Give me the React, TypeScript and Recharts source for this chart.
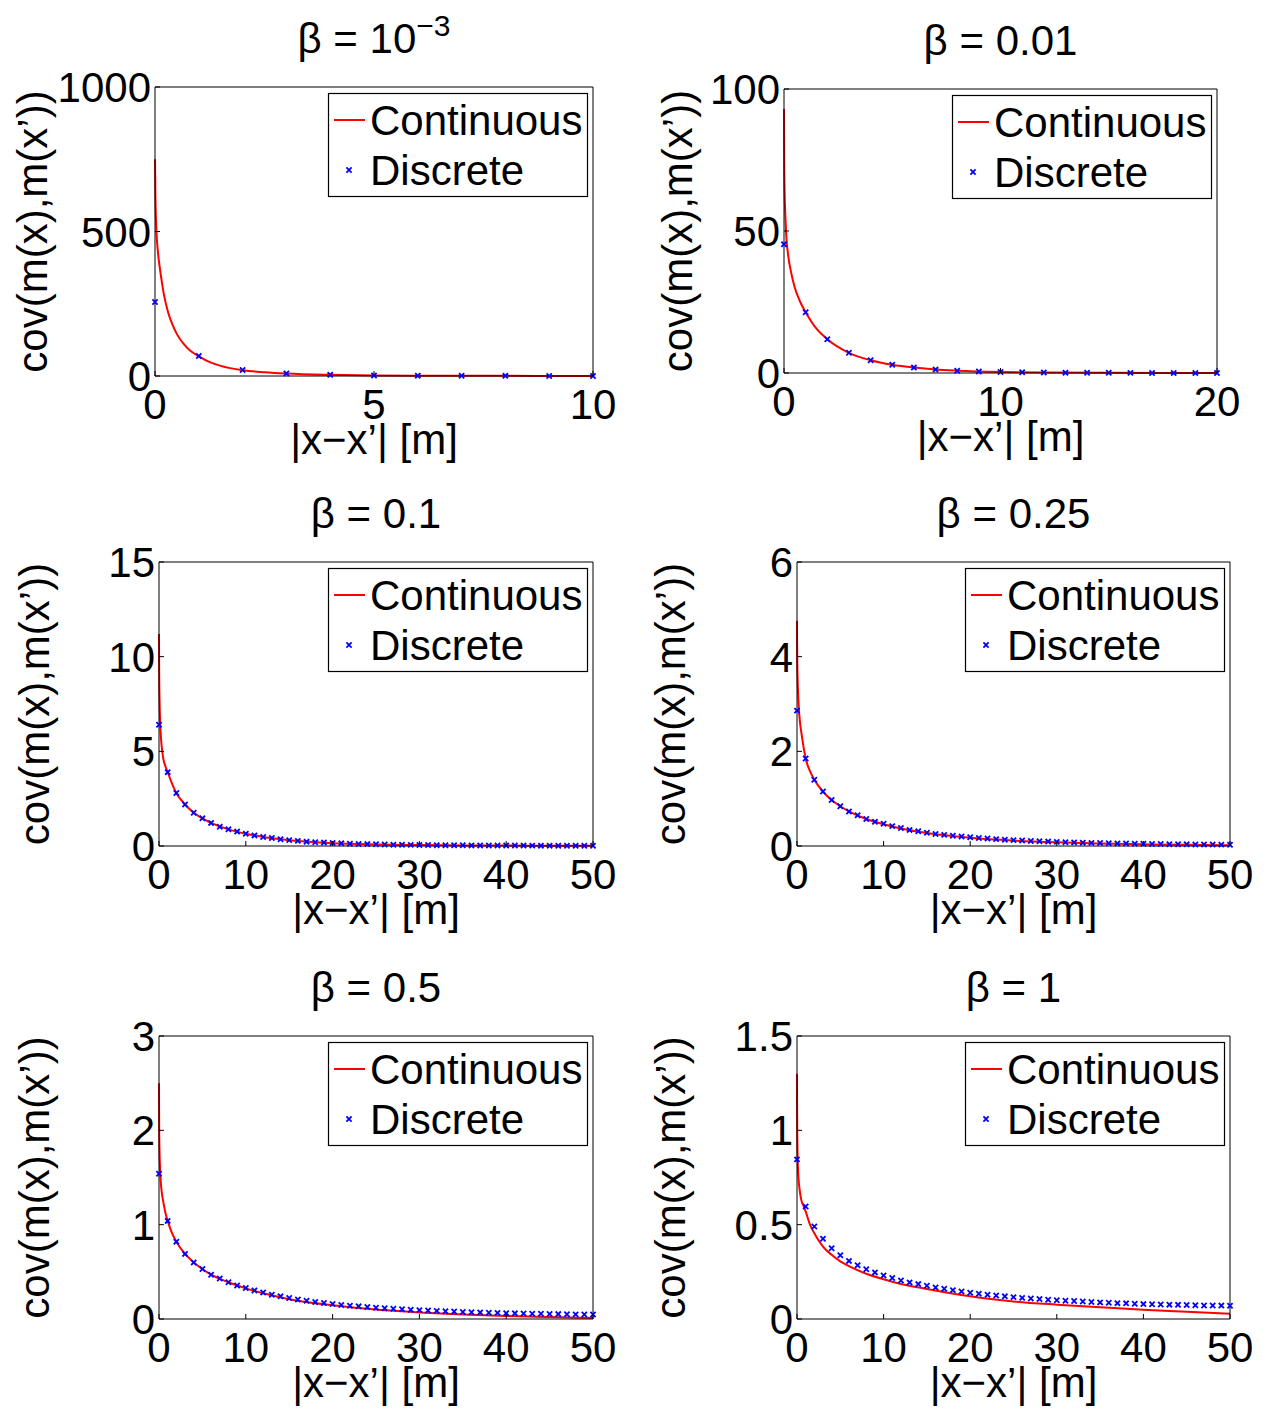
import React from 'react';
import { ComposedChart, Line, Scatter, XAxis, YAxis, Legend } from 'recharts';

const FONT = '"Liberation Sans", Arial, Helvetica, sans-serif';

// ---------- Panel 1: beta = 10^-3 ----------
const p1ContX = [0, 0.01, 0.03, 0.06, 0.1, 0.15, 0.2, 0.3, 0.4, 0.5, 0.65, 0.8, 1, 1.25, 1.5, 2, 2.5, 3, 4, 5, 6, 7, 8, 10];
const p1ContY = [750, 620, 510, 440, 385, 332, 285, 220, 178, 145, 112, 88, 68, 48, 35, 20, 13, 8.5, 4, 2, 1.2, 0.8, 0.5, 0.2];
const p1DiscX = [0, 1, 2, 3, 4, 5, 6, 7, 8, 9, 10];
const p1DiscY = [256, 69, 21, 9, 4, 2, 1.2, 0.8, 0.5, 0.3, 0.2];
const p1XTicks = [0, 5, 10];
const p1YTicks = [0, 500, 1000];

// ---------- Panel 2: beta = 0.01 ----------
const p2ContX = [0, 0.01, 0.03, 0.06, 0.1, 0.2, 0.3, 0.5, 0.75, 1, 1.5, 2, 3, 4, 5, 6, 7, 8, 10, 12, 15, 20];
const p2ContY = [93, 75, 63, 56, 49, 41, 36.5, 30, 25, 21.4, 15.6, 11.9, 7.1, 4.5, 2.9, 1.9, 1.2, 0.8, 0.35, 0.17, 0.06, 0.01];
const p2DiscX = [0, 1, 2, 3, 4, 5, 6, 7, 8, 9, 10, 11, 12, 13, 14, 15, 16, 17, 18, 19, 20];
const p2DiscY = [45.3, 21.4, 11.9, 7.1, 4.5, 2.9, 1.9, 1.2, 0.8, 0.5, 0.35, 0.25, 0.17, 0.12, 0.08, 0.06, 0.04, 0.03, 0.02, 0.015, 0.01];
const p2XTicks = [0, 10, 20];
const p2YTicks = [0, 50, 100];

// shared discrete distances for panels 3-6
const discX50 = [0, 1, 2, 3, 4, 5, 6, 7, 8, 9, 10, 11, 12, 13, 14, 15, 16, 17, 18, 19, 20, 21, 22, 23, 24, 25, 26, 27, 28, 29, 30, 31, 32, 33, 34, 35, 36, 37, 38, 39, 40, 41, 42, 43, 44, 45, 46, 47, 48, 49, 50];
const xTicks50 = [0, 10, 20, 30, 40, 50];
const contX50 = [0, 0.01, 0.03, 0.06, 0.1, 0.2, 0.35, 0.5, 0.75, 1, 1.5, 2, 3, 4, 5, 6, 8, 10, 12, 15, 20, 25, 30, 35, 40, 45, 50];

// ---------- Panel 3: beta = 0.1 ----------
const p3ContY = [11.2, 10.0, 8.7, 7.8, 7.0, 5.9, 5.1, 4.6, 4.2, 3.9, 3.3, 2.8, 2.19, 1.76, 1.46, 1.22, 0.88, 0.65, 0.48, 0.31, 0.15, 0.085, 0.05, 0.032, 0.022, 0.015, 0.01];
const p3DiscY = [6.4, 3.9, 2.8, 2.19, 1.76, 1.46, 1.22, 1.02, 0.88, 0.76, 0.65, 0.56, 0.48, 0.42, 0.36, 0.31, 0.27, 0.23, 0.2, 0.18, 0.16, 0.14, 0.12, 0.11, 0.1, 0.09, 0.08, 0.07, 0.065, 0.06, 0.055, 0.05, 0.045, 0.04, 0.038, 0.035, 0.032, 0.03, 0.028, 0.026, 0.024, 0.022, 0.021, 0.02, 0.019, 0.018, 0.017, 0.016, 0.015, 0.014, 0.013];
const p3YTicks = [0, 5, 10, 15];

// ---------- Panel 4: beta = 0.25 ----------
const p4ContY = [4.76, 4.3, 3.9, 3.6, 3.35, 2.95, 2.6, 2.4, 2.1, 1.85, 1.58, 1.4, 1.15, 0.97, 0.84, 0.73, 0.57, 0.46, 0.37, 0.275, 0.175, 0.115, 0.078, 0.054, 0.037, 0.025, 0.017];
const p4DiscY = [2.86, 1.85, 1.4, 1.15, 0.97, 0.84, 0.73, 0.65, 0.57, 0.51, 0.47, 0.42, 0.38, 0.34, 0.31, 0.28, 0.255, 0.235, 0.215, 0.2, 0.185, 0.17, 0.157, 0.145, 0.134, 0.124, 0.115, 0.107, 0.1, 0.093, 0.087, 0.081, 0.076, 0.071, 0.066, 0.062, 0.058, 0.055, 0.052, 0.049, 0.046, 0.043, 0.041, 0.039, 0.037, 0.035, 0.033, 0.032, 0.03, 0.029, 0.028];
const p4YTicks = [0, 2, 4, 6];

// ---------- Panel 5: beta = 0.5 ----------
const p5ContY = [2.5, 2.2, 1.95, 1.78, 1.65, 1.46, 1.32, 1.24, 1.12, 1.04, 0.91, 0.82, 0.69, 0.6, 0.53, 0.47, 0.39, 0.325, 0.272, 0.21, 0.145, 0.1, 0.07, 0.048, 0.032, 0.02, 0.011];
const p5DiscY = [1.54, 1.04, 0.82, 0.69, 0.6, 0.53, 0.47, 0.43, 0.39, 0.356, 0.328, 0.303, 0.28, 0.258, 0.24, 0.222, 0.207, 0.194, 0.181, 0.17, 0.159, 0.149, 0.141, 0.134, 0.127, 0.12, 0.114, 0.108, 0.103, 0.098, 0.094, 0.09, 0.086, 0.082, 0.079, 0.075, 0.072, 0.07, 0.067, 0.065, 0.062, 0.06, 0.058, 0.056, 0.055, 0.053, 0.052, 0.05, 0.049, 0.048, 0.047];
const p5YTicks = [0, 1, 2, 3];

// ---------- Panel 6: beta = 1 ----------
const p6ContY = [1.3, 1.12, 0.98, 0.88, 0.81, 0.73, 0.67, 0.63, 0.6, 0.57, 0.5, 0.455, 0.384, 0.34, 0.305, 0.28, 0.24, 0.211, 0.186, 0.159, 0.12, 0.093, 0.076, 0.062, 0.049, 0.039, 0.028];
const p6DiscY = [0.846, 0.596, 0.49, 0.425, 0.375, 0.338, 0.308, 0.285, 0.264, 0.247, 0.231, 0.217, 0.204, 0.194, 0.185, 0.176, 0.167, 0.16, 0.153, 0.146, 0.139, 0.134, 0.129, 0.125, 0.12, 0.116, 0.112, 0.109, 0.106, 0.102, 0.099, 0.097, 0.095, 0.093, 0.09, 0.088, 0.086, 0.084, 0.083, 0.081, 0.079, 0.078, 0.077, 0.076, 0.075, 0.074, 0.073, 0.072, 0.072, 0.071, 0.0705];
const p6YTicks = [0, 0.5, 1, 1.5];

const seriesNames = ['Continuous', 'Discrete'];
const yLabelText = 'cov(m(x),m(x\u2019))';
const xLabelText = '|x\u2212x\u2019| [m]';

const zip = (xs: number[], ys: number[]) => xs.map((x, i) => ({ x, y: ys[i] }));

type Box = { l: number; t: number; r: number; b: number };
type Panel = {
  title: string;
  sup?: string;
  cont: { x: number; y: number }[];
  disc: { x: number; y: number }[];
  xTicks: number[];
  yTicks: number[];
  box: Box;
  cell: { l: number; t: number; w: number; h: number };
  yLabelX: number;
};

const panels: Panel[] = [
  { title: '\u03b2 = 10', sup: '\u22123', cont: zip(p1ContX, p1ContY), disc: zip(p1DiscX, p1DiscY), xTicks: p1XTicks, yTicks: p1YTicks,
    box: { l: 155, t: 87, r: 593, b: 376 }, cell: { l: 0, t: 0, w: 636, h: 472 }, yLabelX: 47 },
  { title: '\u03b2 = 0.01', cont: zip(p2ContX, p2ContY), disc: zip(p2DiscX, p2DiscY), xTicks: p2XTicks, yTicks: p2YTicks,
    box: { l: 784, t: 89, r: 1217, b: 373 }, cell: { l: 636, t: 0, w: 636, h: 472 }, yLabelX: 692 },
  { title: '\u03b2 = 0.1', cont: zip(contX50, p3ContY), disc: zip(discX50, p3DiscY), xTicks: xTicks50, yTicks: p3YTicks,
    box: { l: 159, t: 562, r: 593, b: 846 }, cell: { l: 0, t: 472, w: 636, h: 474 }, yLabelX: 49 },
  { title: '\u03b2 = 0.25', cont: zip(contX50, p4ContY), disc: zip(discX50, p4DiscY), xTicks: xTicks50, yTicks: p4YTicks,
    box: { l: 797, t: 562, r: 1230, b: 846 }, cell: { l: 636, t: 472, w: 636, h: 474 }, yLabelX: 685 },
  { title: '\u03b2 = 0.5', cont: zip(contX50, p5ContY), disc: zip(discX50, p5DiscY), xTicks: xTicks50, yTicks: p5YTicks,
    box: { l: 159, t: 1036, r: 593, b: 1319 }, cell: { l: 0, t: 946, w: 636, h: 466 }, yLabelX: 49 },
  { title: '\u03b2 = 1', cont: zip(contX50, p6ContY), disc: zip(discX50, p6DiscY), xTicks: xTicks50, yTicks: p6YTicks,
    box: { l: 797, t: 1036, r: 1230, b: 1319 }, cell: { l: 636, t: 946, w: 636, h: 466 }, yLabelX: 685 },
];

const FS = 42;

const BottomTick = (props: any) => {
  const { x, y, payload } = props;
  return (
    <g>
      <line x1={x} y1={y} x2={x} y2={y - 5} stroke="#000" strokeWidth={1} />
      <text x={x} y={y + 43} textAnchor="middle" fontSize={FS} fontFamily={FONT} fill="#000">{String(payload.value)}</text>
    </g>
  );
};
const TopTick = (props: any) => {
  const { x, y } = props;
  return <line x1={x} y1={y} x2={x} y2={y + 5} stroke="#000" strokeWidth={1} />;
};
const LeftTick = (props: any) => {
  const { x, y, payload } = props;
  return (
    <g>
      <line x1={x} y1={y} x2={x + 5} y2={y} stroke="#000" strokeWidth={1} />
      <text x={x - 4} y={y + 15} textAnchor="end" fontSize={FS} fontFamily={FONT} fill="#000">{String(payload.value)}</text>
    </g>
  );
};
const RightTick = (props: any) => {
  const { x, y } = props;
  return <line x1={x} y1={y} x2={x - 5} y2={y} stroke="#000" strokeWidth={1} />;
};

const CrossShape = (props: any) => {
  const { cx, cy } = props;
  if (cx == null || cy == null) return null;
  const s = 2.6;
  return (
    <path d={`M${cx - s},${cy - s}L${cx + s},${cy + s}M${cx - s},${cy + s}L${cx + s},${cy - s}`} stroke="#0000ff" strokeWidth={1.8} fill="none" />
  );
};

const LegendBox = (props: any) => {
  const payload = props.payload || [];
  return (
    <svg width={260} height={104} style={{ display: 'block', overflow: 'visible' }}>
      <rect x={0.5} y={0.5} width={259} height={103} fill="#fff" stroke="#000" strokeWidth={1.2} />
      {payload.map((entry: any, i: number) => {
        const cy = 27 + i * 50;
        const isLine = entry.type === 'line';
        return (
          <g key={i}>
            {isLine ? (
              <line x1={6} y1={cy} x2={37} y2={cy} stroke="#ff0000" strokeWidth={2} />
            ) : (
              <CrossShape cx={21} cy={cy} />
            )}
            <text x={42} y={cy + 15} fontSize={FS} fontFamily={FONT} fill="#000">{entry.value}</text>
          </g>
        );
      })}
    </svg>
  );
};

const AX = 1; // thickness reserved for each axis band

const PanelChart = ({ p }: { p: Panel }) => {
  const { box, cell } = p;
  const margin = {
    left: box.l - cell.l - AX,
    top: box.t - cell.t - AX,
    right: cell.l + cell.w - box.r - AX,
    bottom: cell.t + cell.h - box.b - AX,
  };
  const xMax = p.xTicks[p.xTicks.length - 1];
  const yMax = p.yTicks[p.yTicks.length - 1];
  return (
    <div style={{ position: 'absolute', left: cell.l, top: cell.t, width: cell.w, height: cell.h }}>
      <ComposedChart width={cell.w} height={cell.h} margin={margin} style={{ overflow: 'visible' }}>
        <XAxis xAxisId="b" type="number" dataKey="x" domain={[0, xMax]} ticks={p.xTicks} interval={0} height={AX}
          tickSize={0} tickMargin={0} tickLine={false} tick={BottomTick} axisLine={{ stroke: '#000', strokeWidth: 1 }} />
        <XAxis xAxisId="t" orientation="top" type="number" dataKey="x" domain={[0, xMax]} ticks={p.xTicks} interval={0} height={AX}
          tickSize={0} tickMargin={0} tickLine={false} tick={TopTick} axisLine={{ stroke: '#000', strokeWidth: 1 }} />
        <YAxis yAxisId="l" type="number" dataKey="y" domain={[0, yMax]} ticks={p.yTicks} interval={0} width={AX}
          tickSize={0} tickMargin={0} tickLine={false} tick={LeftTick} axisLine={{ stroke: '#000', strokeWidth: 1 }} />
        <YAxis yAxisId="r" orientation="right" type="number" dataKey="y" domain={[0, yMax]} ticks={p.yTicks} interval={0} width={AX}
          tickSize={0} tickMargin={0} tickLine={false} tick={RightTick} axisLine={{ stroke: '#000', strokeWidth: 1 }} />
        <Line xAxisId="b" yAxisId="l" data={p.cont} dataKey="y" name={seriesNames[0]} type="monotone" stroke="#ff0000"
          strokeWidth={2} dot={false} activeDot={false} legendType="line" isAnimationActive={false} />
        <Scatter xAxisId="b" yAxisId="l" data={p.disc} dataKey="y" name={seriesNames[1]} fill="#0000ff" shape={CrossShape}
          legendType="cross" isAnimationActive={false} />
        <Legend layout="vertical" align="center" verticalAlign="middle" width={260} height={104}
          wrapperStyle={{ left: box.r - cell.l - 5 - 260, top: box.t - cell.t + 6 }} content={LegendBox} />
      </ComposedChart>
    </div>
  );
};

export default function App() {
  return (
    <div style={{ position: 'absolute', left: 0, top: 0, width: 1272, height: 1412, background: '#fff', fontFamily: FONT }}>
      {panels.map((p, i) => (
        <PanelChart key={i} p={p} />
      ))}
      <svg width={1272} height={1412} style={{ position: 'absolute', left: 0, top: 0, pointerEvents: 'none' }}>
        {panels.map((p, i) => {
          const cx = (p.box.l + p.box.r) / 2;
          const cy = (p.box.t + p.box.b) / 2;
          return (
            <g key={i} fontFamily={FONT} fill="#000">
              <text x={cx} y={p.box.t - 34} textAnchor="middle" fontSize={FS}>
                {p.title}
                {p.sup ? <tspan fontSize={30} dy={-17}>{p.sup}</tspan> : null}
              </text>
              <text x={cx} y={p.box.b + 78} textAnchor="middle" fontSize={FS}>{xLabelText}</text>
              <text transform={`translate(${p.yLabelX},${cy}) rotate(-90)`} textAnchor="middle" fontSize={FS}>{yLabelText}</text>
            </g>
          );
        })}
      </svg>
    </div>
  );
}
